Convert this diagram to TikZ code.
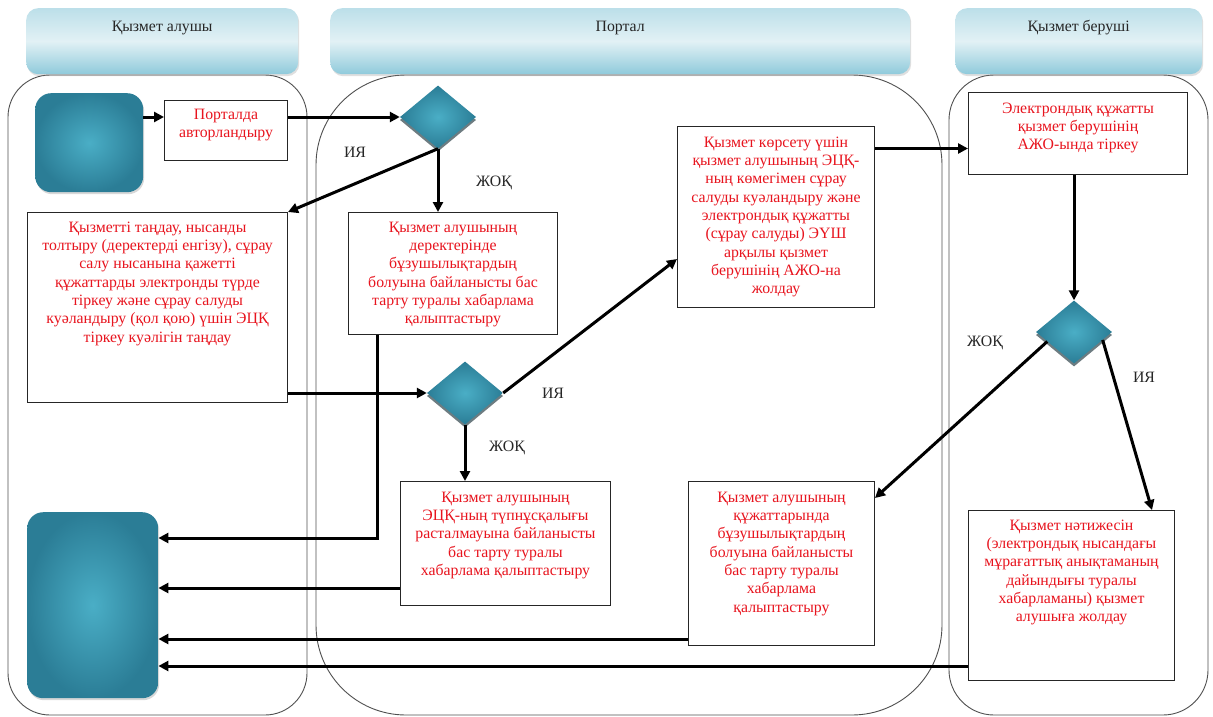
\documentclass[tikz,border=0pt]{standalone}
\usepackage{fontspec}
\setmainfont{Liberation Serif}
\usetikzlibrary{shapes.geometric,arrows.meta,calc,shadows}
\definecolor{txtred}{HTML}{E8141E}
\definecolor{hdrTop}{HTML}{BCDFE9}
\definecolor{hdrMid}{HTML}{E2F1F5}
\definecolor{hdrBot}{HTML}{8FCADB}
\definecolor{tealIn}{HTML}{4AAEC6}
\definecolor{tealOut}{HTML}{2B7D96}
\definecolor{laneCol}{HTML}{505050}
\newcommand{\bxt}[4]{\parbox[c][#2][t]{#1}{\centering\fontsize{15.8}{18.3}\selectfont\vspace*{#3}\strut #4\par}}
\tikzset{
  box/.style={draw=black!85, line width=1pt, fill=white, inner sep=0pt, text=txtred, anchor=north west},
  hdr/.style={rounded corners=12pt, top color=hdrTop, bottom color=hdrBot, middle color=hdrMid,
     inner sep=0pt, anchor=north west, text=black!85,
     drop shadow={opacity=0.25, shadow xshift=1pt, shadow yshift=-2pt}},
  lane/.style={draw=laneCol, line width=0.9pt},
  term/.style={rounded corners=16pt, inner color=tealIn, outer color=tealOut, inner sep=0pt, anchor=north west,
     drop shadow={opacity=0.3, shadow xshift=1pt, shadow yshift=-2pt}},
  dia/.style={diamond, minimum width=76pt, minimum height=63pt, inner sep=0pt,
     inner color=tealIn, outer color=tealOut,
     drop shadow={opacity=0.6, fill=black!70!tealOut, shadow xshift=0pt, shadow yshift=-3pt}},
  arr/.style={draw=black, line width=3pt, -{Triangle[length=10pt,width=10pt]}},
  lbl/.style={text=black!85, font=\fontsize{15.8}{18}\selectfont, inner sep=0pt}
}
\begin{document}
\begin{tikzpicture}[x=1pt,y=-1pt]
\useasboundingbox (0,0) rectangle (1213,717);
\fill[white] (0,0) rectangle (1213,717);
% lanes
\draw[lane, rounded corners=42pt] (8,75) rectangle (307,715);
\draw[lane, rounded corners=90pt] (316,75) rectangle (942,715);
\draw[lane, rounded corners=45pt] (949,75) rectangle (1208,715);
% headers
\node[hdr] (h1) at (26,8) {\bxt{272pt}{66pt}{10pt}{Қызмет алушы}};
\node[hdr] (h2) at (330,8) {\bxt{580pt}{66pt}{10pt}{Портал}};
\node[hdr] (h3) at (955,8) {\bxt{247pt}{66pt}{10pt}{Қызмет беруші}};
% terminals
\node[term, minimum width=108pt, minimum height=99pt] (start) at (35,93) {};
\node[term, minimum width=131pt, minimum height=186pt] (end) at (27,512) {};
% boxes
\node[box] (auth) at (164,100) {\bxt{123pt}{60pt}{6pt}{Порталда\\ авторландыру}};
\node[box] (choose) at (27,212) {\bxt{260pt}{190pt}{7pt}{Қызметті таңдау, нысанды\\ толтыру (деректерді енгізу), сұрау\\ салу нысанына қажетті\\ құжаттарды электронды түрде\\ тіркеу және сұрау салуды\\ куәландыру (қол қою) үшін ЭЦҚ\\ тіркеу куәлігін таңдау}};
\node[box] (err1) at (348,212) {\bxt{209pt}{122pt}{7pt}{Қызмет алушының\\ деректерінде\\ бұзушылықтардың\\ болуына байланысты бас\\ тарту туралы хабарлама\\ қалыптастыру}};
\node[box] (ecp) at (400,481) {\bxt{210pt}{124pt}{8pt}{Қызмет алушының\\ ЭЦҚ-ның түпнұсқалығы\\ расталмауына байланысты\\ бас тарту туралы\\ хабарлама қалыптастыру}};
\node[box] (send) at (677,126) {\bxt{197pt}{181pt}{8pt}{Қызмет көрсету үшін\\ қызмет алушының ЭЦҚ-\\ ның көмегімен сұрау\\ салуды куәландыру және\\ электрондық құжатты\\ (сұрау салуды) ЭҮШ\\ арқылы қызмет\\ берушінің АЖО-на\\ жолдау}};
\node[box] (reg) at (968,92) {\bxt{219pt}{82pt}{8pt}{Электрондық құжатты\\ қызмет берушінің\\ АЖО-ында тіркеу}};
\node[box] (err2) at (688,481) {\bxt{186pt}{164pt}{8pt}{Қызмет алушының\\ құжаттарында\\ бұзушылықтардың\\ болуына байланысты\\ бас тарту туралы\\ хабарлама\\ қалыптастыру}};
\node[box] (result) at (968,510) {\bxt{206pt}{170pt}{7pt}{Қызмет нәтижесін\\ (электрондық нысандағы\\ мұрағаттық анықтаманың\\ дайындығы туралы\\ хабарламаны) қызмет\\ алушыға жолдау}};
% diamonds
\node[dia] (d1) at (438,117) {};
\node[dia] (d2) at (465,393) {};
\node[dia] (d3) at (1074,332) {};
% labels
\node[lbl] (l1) at (355,152) {ИЯ};
\node[lbl] (l2) at (494,183) {ЖОҚ};
\node[lbl] (l3) at (553,393) {ИЯ};
\node[lbl] (l4) at (507,448) {ЖОҚ};
\node[lbl] (l5) at (985,343) {ЖОҚ};
\node[lbl] (l6) at (1144,377) {ИЯ};
% coordinates
\coordinate (regin) at ([yshift=-15pt]reg.west);
\coordinate (sendin) at ([yshift=49pt]send.south west);
\coordinate (err2in) at ([yshift=-17pt]err2.north east);
\coordinate (resin) at ([xshift=-23pt]result.north east);
\coordinate (e1out) at ([xshift=29pt]err1.south west);
\coordinate (e1in) at ([yshift=-26pt]end.north east);
\coordinate (ecpout) at ([yshift=-107pt]ecp.north west);
\coordinate (err2out) at ([yshift=-158pt]err2.north west);
\coordinate (resout) at ([yshift=-156pt]result.north west);
% connectors
\draw[arr] (start.east |- d1) -- (auth.west |- d1);
\draw[arr] (auth.east |- d1) -- (d1.west);
\draw[arr] (d1.south) -- (d1.south |- err1.north);
\draw[arr] (d1.south) -- (choose.north east);
\draw[arr] (choose.east |- d2) -- (d2.west);
\draw[arr] (d2.east) -- (sendin);
\draw[arr] (d2.south) -- (d2.south |- ecp.north);
\draw[arr] (send.east |- regin) -- (regin);
\draw[arr] (d3.north |- reg.south) -- (d3.north);
\draw[arr] ($(d3.west)!0.3!(d3.south)$) -- (err2in);
\draw[arr] ($(d3.east)!0.25!(d3.south)$) -- (resin);
\draw[arr] (e1out) |- (e1in);
\draw[arr] (ecpout) -- (end.east |- ecpout);
\draw[arr] (err2out) -- (end.east |- err2out);
\draw[arr] (resout) -- (end.east |- resout);
\end{tikzpicture}
\end{document}
